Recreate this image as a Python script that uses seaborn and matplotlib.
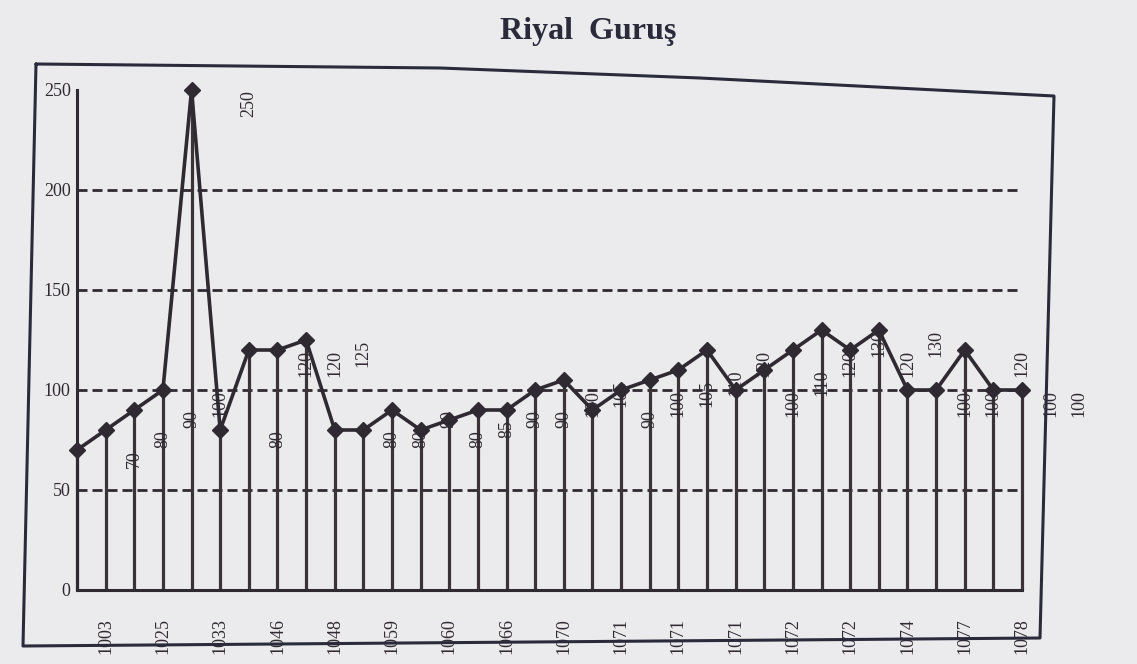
import numpy as np
import pandas as pd
import matplotlib
matplotlib.use("Agg")
import matplotlib.pyplot as plt
import seaborn as sns

# degerler (fotograftan okunan)
values = [70, 80, 90, 100, 250, 80, 120, 120, 125, 80, 80, 90, 80, 85, 90, 90, 100,
          105, 90, 100, 105, 110, 120, 100, 110, 120, 130, 120, 130, 100, 100, 120, 100, 100]
years = ["1003", "1025", "1033", "1046", "1048", "1059", "1060", "1066", "1070",
         "1071", "1071", "1071", "1072", "1072", "1074", "1077", "1078"]
yticks = [0, 50, 100, 150, 200, 250]
title = "Riyal  Guruş"

ink = "#2f2a31"
paper = "#ebebee"
W, H = 1137, 664

df = pd.DataFrame({"idx": np.arange(len(values)), "val": values})

sns.set_style("white")
plt.rcParams["font.family"] = ["Liberation Serif", "DejaVu Serif"]

fig = plt.figure(figsize=(W / 100, H / 100), dpi=100, facecolor=paper)
ax = fig.add_axes([77 / W, 1 - 590 / H, (1022 - 77) / W, (590 - 90) / H])
ax.set_facecolor(paper)

# kesikli yatay cizgiler (250 haric)
for y in yticks[1:-1]:
    ax.axhline(y, color=ink, lw=2, dashes=(3.6, 1.8), zorder=1)

# dikey cubuklar
ax.vlines(df["idx"], 0, df["val"], color="#3b3337", lw=2.3, zorder=2, clip_on=False)

sns.lineplot(data=df, x="idx", y="val", ax=ax, color=ink, lw=2.6, marker="D",
             markersize=8, markeredgecolor=ink, markeredgewidth=1, zorder=3, clip_on=False)

# etiketler orijinaldeki gibi iki sira saga kaymis
for i, v in enumerate(values):
    ax.text(i + 2, v, str(v), rotation=90, ha="center", va="top", fontsize=13, color=ink)

ax.set_xlim(0, len(values) - 1)
ax.set_ylim(0, 250)
ax.set_xticks(range(len(values)))
ax.set_xticklabels(["" if i % 2 == 0 else years[i // 2] for i in range(len(values))],
                   rotation=90, fontsize=13, color=ink)
ax.set_yticks(yticks)
ax.set_yticklabels([str(t) for t in yticks], fontsize=13, color=ink)
ax.tick_params(axis="x", direction="inout", length=8, width=2, color=ink, pad=16)
ax.tick_params(axis="y", direction="inout", length=7, width=2, color=ink, pad=1)
ax.set_xlabel("")
ax.set_ylabel("")
for s in ["top", "right"]:
    ax.spines[s].set_visible(False)
for s in ["left", "bottom"]:
    ax.spines[s].set_color(ink)
    ax.spines[s].set_linewidth(2.2)

# cerceve
fx = [36, 440, 700, 1054, 1040, 23, 36]
fy = [64, 68, 78, 96, 638, 646, 64]
fig.add_artist(plt.Line2D([x / W for x in fx], [1 - y / H for y in fy],
                          transform=fig.transFigure, color="#2a2a3a", lw=2.2))

fig.text(588 / W, 1 - 32 / H, title, ha="center", va="center", fontsize=23,
         fontweight="bold", color="#2a2a3a")

fig.savefig("out.png", dpi=100, facecolor=paper)
